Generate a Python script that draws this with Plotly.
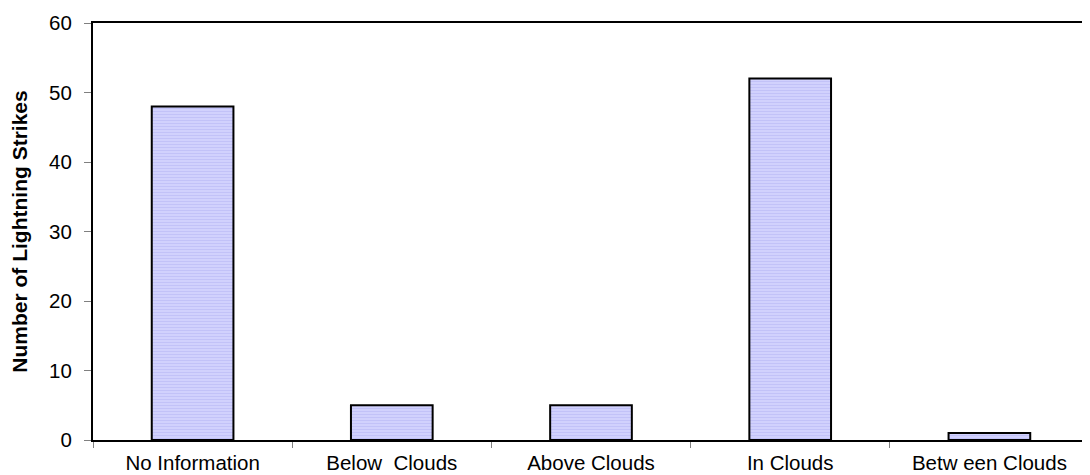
import plotly.graph_objects as go

categories = ["No Information", "Below  Clouds", "Above Clouds", "In Clouds", "Betw een Clouds"]
strikes = [48, 5, 5, 52, 1]
y_ticks = [0, 10, 20, 30, 40, 50, 60]

fig = go.Figure()
fig.add_trace(go.Bar(
    x=categories, y=strikes, width=0.41,
    marker=dict(
        color="#ccccff",
        line=dict(color="black", width=2),
        pattern=dict(shape="-", bgcolor="#d6d6ff", fgcolor="#adadf2", size=3, solidity=0.5),
    ),
    showlegend=False,
))

font = dict(family="Liberation Sans, Arial, sans-serif", size=20.5, color="black")
fig.update_layout(
    width=1090, height=475,
    margin=dict(l=85, r=9, t=15, b=43),
    paper_bgcolor="white", plot_bgcolor="white",
    font=font,
)
fig.update_xaxes(
    type="category", tickson="boundaries", ticks="outside", ticklen=6, tickcolor="#808080",
    showline=True, linecolor="black", linewidth=2, mirror=True, showgrid=False,
    tickfont=font, automargin=False, ticklabelstandoff=3,
)
fig.update_yaxes(
    range=[0, 60], tickvals=y_ticks, ticks="outside", ticklen=7, tickcolor="#808080",
    showline=True, linecolor="black", linewidth=2, mirror=True, showgrid=False, zeroline=False,
    tickfont=font, automargin=False, ticklabelstandoff=8,
    title=dict(text="<b>Number of Lightning Strikes</b>",
               font=dict(family="Liberation Sans, Arial, sans-serif", size=21), standoff=20),
)
fig.write_html("out.html")
